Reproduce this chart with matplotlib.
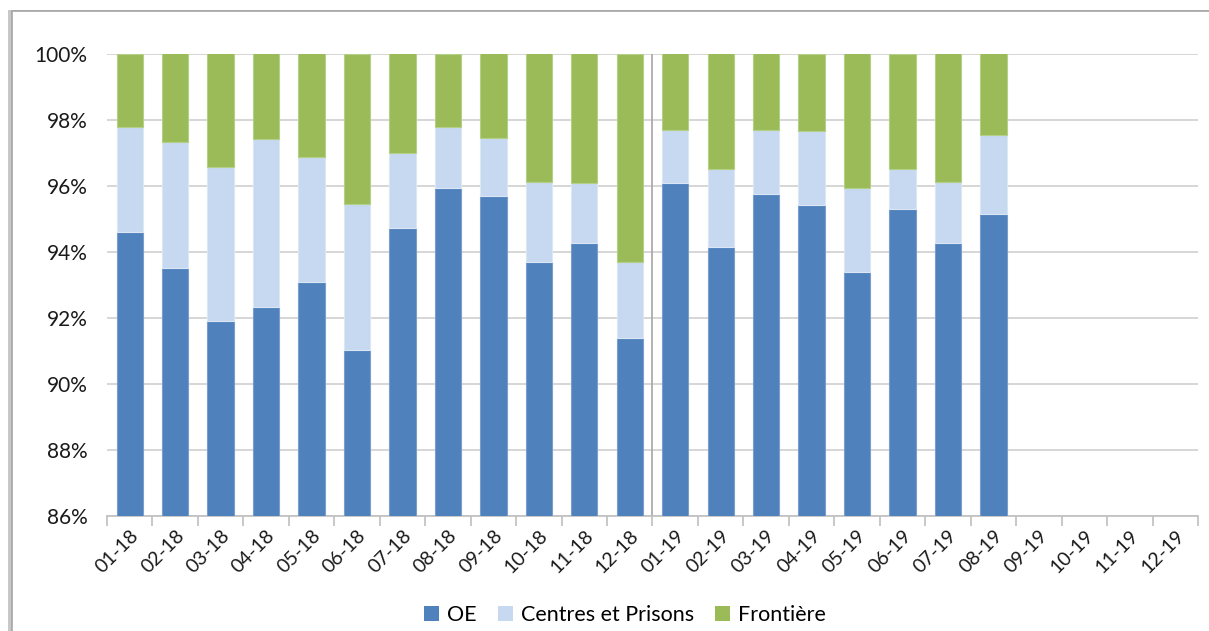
import matplotlib
matplotlib.use("Agg")
import matplotlib.pyplot as plt
from matplotlib.patches import Rectangle, Patch
import numpy as np

plt.rcParams['font.family'] = ['Lato', 'DejaVu Sans']

months = ["01-18", "02-18", "03-18", "04-18", "05-18", "06-18", "07-18", "08-18",
          "09-18", "10-18", "11-18", "12-18", "01-19", "02-19", "03-19", "04-19",
          "05-19", "06-19", "07-19", "08-19", "09-19", "10-19", "11-19", "12-19"]
oe = [94.60, 93.51, 91.91, 92.33, 93.09, 91.03, 94.72, 95.93, 95.69, 93.69, 94.27, 91.39,
      96.08, 94.15, 95.75, 95.42, 93.39, 95.30, 94.27, 95.14]
centres = [3.18, 3.81, 4.66, 5.08, 3.78, 4.42, 2.27, 1.85, 1.75, 2.42, 1.81, 2.30,
           1.61, 2.36, 1.94, 2.24, 2.54, 1.21, 1.84, 2.39]
frontiere = [2.22, 2.68, 3.43, 2.59, 3.13, 4.55, 3.01, 2.22, 2.56, 3.89, 3.92, 6.31,
             2.31, 3.49, 2.31, 2.34, 4.07, 3.49, 3.89, 2.47]
series_names = ["OE", "Centres et Prisons", "Frontière"]
colors = ["#4F81BD", "#C6D9F1", "#9BBB59"]
edge_colors = ["#7A9FCC", "#DCE7F5", "#B4CF86"]

fig = plt.figure(figsize=(12.09, 6.31), dpi=100)
# outer chart frame with shadow
shadow = Rectangle((8 / 1209, -0.02), 1.05, 1 - 10 / 631 + 0.02,
                   transform=fig.transFigure, facecolor="#C8C8C8", edgecolor="none",
                   zorder=-3)
fig.patches.append(shadow)
frame = Rectangle((12 / 1209, -0.02), 1.05, 1 - 11 / 631 + 0.02,
                  transform=fig.transFigure, facecolor="white", edgecolor="#A6A6A6",
                  linewidth=1.2, zorder=-2)
fig.patches.append(frame)

ax = fig.add_axes([107 / 1209, 1 - 516 / 631, (1198 - 107) / 1209, (516 - 53.5) / 631])
ax.set_facecolor("none")
ax.set_zorder(1)

x = np.arange(len(oe))
n = len(oe)
bottom = np.zeros(n)
for vals, c, ec, name in zip([oe, centres, frontiere], colors, edge_colors, series_names):
    vals = np.array(vals)
    ax.bar(x, vals, bottom=bottom, width=0.58, color=c, edgecolor=ec, linewidth=0.8,
           label=name, zorder=3)
    bottom = bottom + vals

ax.set_xlim(-0.5, len(months) - 0.5)
ax.set_ylim(86, 100)
ax.set_yticks(np.arange(86, 101, 2))
ax.set_yticklabels([f"{v}%" for v in range(86, 101, 2)], fontsize=15, color="#1a1a1a")
ax.yaxis.grid(True, color="#D0D0D0", linewidth=1.2, zorder=0)
ax.tick_params(axis="y", length=0, pad=14)

ax.set_xticks(np.arange(-0.5, len(months), 1), minor=True)
ax.set_xticks(np.arange(len(months)))
ax.set_xticklabels(months, rotation=45, ha="right", rotation_mode="anchor",
                   fontsize=14, color="#1a1a1a")
ax.tick_params(axis="x", which="major", length=0, pad=8)
ax.tick_params(axis="x", which="minor", length=7, color="#BFBFBF", width=1.2)

for s in ["left", "right", "top"]:
    ax.spines[s].set_visible(False)
ax.spines["bottom"].set_color("#BFBFBF")
ax.spines["bottom"].set_linewidth(1.2)

ax.axvline(11.5, color="#A6A6A6", linewidth=1.2, zorder=2)

handles = [Patch(facecolor=c, edgecolor="none") for c in colors]
fig.legend(handles, series_names, loc="center", bbox_to_anchor=(625 / 1209, 1 - 615 / 631),
           ncol=3, frameon=False, fontsize=15.5, handlelength=0.7, handleheight=0.7,
           handletextpad=0.35, columnspacing=1.0)

fig.savefig("out.png", dpi=100)
